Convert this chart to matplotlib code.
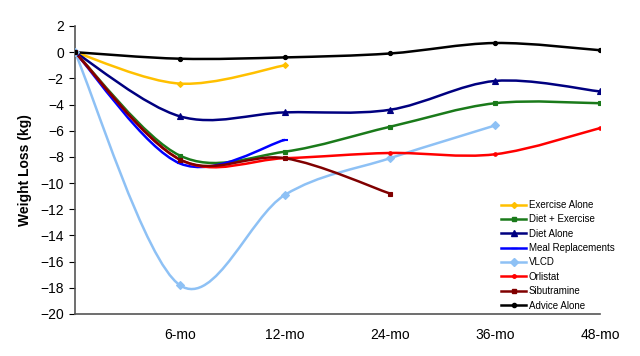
import numpy as np
import matplotlib
matplotlib.use("Agg")
import matplotlib.pyplot as plt
from matplotlib.path import Path
from matplotlib.patches import PathPatch

plt.rcParams['font.family'] = ['Liberation Sans', 'DejaVu Sans']

x_labels = ["", "6-mo", "12-mo", "24-mo", "36-mo", "48-mo"]

exercise_alone = [0, -2.4, -1.0]
diet_exercise = [0, -7.9, -7.6, -5.7, -3.9, -3.9]
diet_alone = [0, -4.9, -4.6, -4.4, -2.2, -3.0]
meal_repl = [0, -8.5, -6.7]
vlcd = [0, -17.8, -10.9, -8.1, -5.6]
orlistat = [0, -8.2, -8.1, -7.7, -7.8, -5.8]
sibutramine = [0, -8.2, -8.1, -10.8]
advice_alone = [0, -0.5, -0.4, -0.1, 0.7, 0.15]

series = [
    ("Exercise Alone", exercise_alone, "#FFC000", "D", 3),
    ("Diet + Exercise", diet_exercise, "#1A7A1A", "s", 3.5),
    ("Diet Alone", diet_alone, "#000080", "^", 4),
    ("Meal Replacements", meal_repl, "#0000FF", "_", 4),
    ("VLCD", vlcd, "#8EC1F5", "D", 4),
    ("Orlistat", orlistat, "#FF0000", "o", 2.5),
    ("Sibutramine", sibutramine, "#800000", "s", 3.5),
    ("Advice Alone", advice_alone, "#000000", "o", 3),
]

fig = plt.figure(figsize=(6.4, 3.56), dpi=100)
ax = fig.add_axes([0.117, 0.118, 0.8205, 0.809])


def smooth_path(xs, ys, t=1/6):
    pts = np.column_stack([xs, ys]).astype(float)
    n = len(pts)
    verts = [pts[0]]
    codes = [Path.MOVETO]
    for i in range(n - 1):
        p0 = pts[i - 1] if i > 0 else pts[i]
        p1 = pts[i]
        p2 = pts[i + 1]
        p3 = pts[i + 2] if i + 2 < n else pts[i + 1]
        c1 = p1 + (p2 - p0) * t
        c2 = p2 - (p3 - p1) * t
        verts += [c1, c2, p2]
        codes += [Path.CURVE4] * 3
    return Path(verts, codes)


for name, vals, color, mk, ms in series:
    xs = np.arange(len(vals))
    patch = PathPatch(smooth_path(xs, vals), facecolor='none', edgecolor=color,
                      lw=1.8, transform=ax.transData, zorder=2)
    ax.add_patch(patch)
    ax.plot(xs, vals, linestyle='none', marker=mk, color=color, ms=ms,
            mew=1.5 if mk == '_' else 0.8, zorder=3)
    ax.plot([], [], color=color, lw=1.8, marker=mk, ms=ms, label=name)

ax.set_xlim(0, 5)
ax.set_ylim(-20, 2)
ax.set_yticks(np.arange(-20, 3, 2))
ax.set_xticks(range(len(x_labels)))
ax.set_xticklabels(x_labels, fontsize=10)
ax.tick_params(axis='x', length=0, pad=10)
ax.tick_params(axis='y', labelsize=10, length=4, direction='out', pad=4)
ax.spines['top'].set_visible(False)
ax.spines['right'].set_visible(False)
ax.spines['left'].set_color('#555555')
ax.spines['bottom'].set_color('#555555')
ax.spines['left'].set_linewidth(1.2)
ax.spines['bottom'].set_linewidth(1.2)
ax.set_ylabel("Weight Loss (kg)", fontsize=10, fontweight='bold', labelpad=6)

leg = ax.legend(loc='lower left', bbox_to_anchor=(0.805, 0.0), frameon=False,
                fontsize=7, handlelength=2.6, handletextpad=0.25,
                labelspacing=0.45, borderaxespad=0.15, borderpad=0.2)

fig.savefig("out.png", dpi=100)
